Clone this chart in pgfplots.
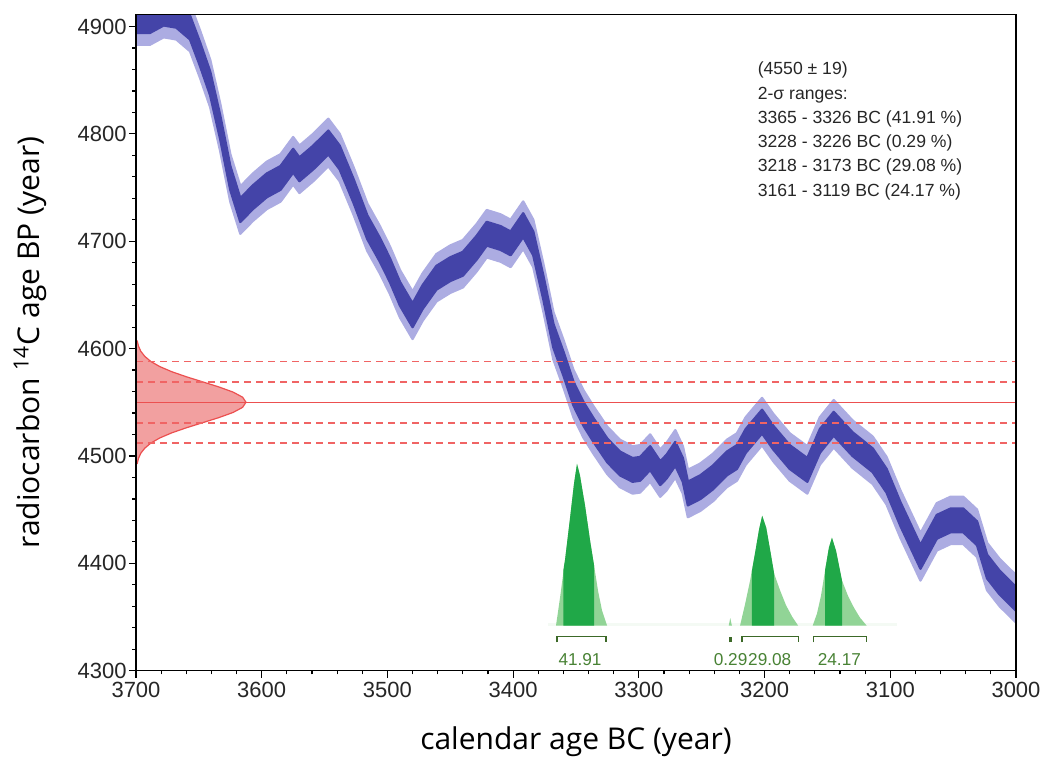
\documentclass[border=0pt]{standalone}
\usepackage{fontspec}
\setmainfont{Liberation Sans}
\newfontfamily\labelfont{Open Sans}
\usepackage{pgfplots}
\pgfplotsset{compat=1.18}
\usepackage{pgfplotstable}
\usepgfplotslibrary{fillbetween}

\definecolor{bandlight}{RGB}{172,172,226}
\definecolor{banddark}{RGB}{68,68,168}
\definecolor{redline}{RGB}{236,80,80}
\definecolor{reddash}{RGB}{240,100,100}
\definecolor{redfill}{RGB}{242,160,160}
\definecolor{gdark}{RGB}{32,168,72}
\definecolor{glight}{RGB}{145,212,150}
\definecolor{gfaint}{RGB}{244,250,244}
\definecolor{gbracket}{RGB}{60,105,40}
\definecolor{glabel}{RGB}{72,130,52}

% calibration curve: year, outer upper, inner upper, inner lower, outer lower
\pgfplotstableread{
yr   ohi  ihi  ilo  olo
3700 4927 4916 4894 4883
3689 4927 4916 4894 4883
3678 4934 4923 4901 4890
3668 4932 4921 4899 4888
3657 4921 4910 4888 4877
3649 4896 4885 4863 4852
3641 4869 4858 4836 4825
3633 4828 4817 4795 4784
3625 4781 4770 4748 4737
3617 4751 4740 4718 4707
3607 4763 4752 4730 4719
3596 4774 4763 4741 4730
3585 4781 4770 4748 4737
3575 4797 4786 4764 4753
3570 4789 4778 4756 4745
3559 4800 4789 4767 4756
3547 4814 4803 4781 4770
3538 4800 4789 4767 4756
3527 4769 4758 4736 4725
3516 4735 4724 4702 4691
3506 4714 4703 4681 4670
3498 4695 4684 4662 4651
3490 4673 4662 4640 4629
3480 4653 4642 4620 4609
3472 4670 4659 4637 4626
3461 4688 4677 4655 4644
3450 4696 4685 4663 4652
3440 4701 4690 4668 4657
3429 4716 4705 4683 4672
3421 4729 4718 4696 4685
3410 4725 4714 4692 4681
3402 4720 4709 4687 4676
3392 4737 4726 4704 4693
3384 4720 4709 4687 4676
3376 4679 4668 4646 4635
3368 4634 4623 4601 4590
3360 4608 4597 4575 4564
3352 4580 4569 4547 4536
3344 4561 4550 4528 4517
3336 4546 4535 4513 4502
3325 4527 4516 4494 4483
3315 4515 4504 4482 4471
3305 4509 4498 4476 4465
3299 4510 4499 4477 4466
3291 4520 4509 4487 4476
3283 4506 4495 4473 4462
3278 4512 4501 4479 4468
3271 4524 4513 4491 4480
3265 4509 4498 4476 4465
3261 4487 4476 4454 4443
3251 4493 4482 4460 4449
3241 4502 4491 4469 4458
3230 4515 4504 4482 4471
3222 4521 4510 4488 4477
3215 4536 4525 4503 4492
3202 4554 4543 4521 4510
3193 4539 4528 4506 4495
3180 4521 4510 4488 4477
3166 4509 4498 4476 4465
3156 4536 4525 4503 4492
3145 4552 4541 4519 4508
3130 4533 4522 4500 4489
3114 4518 4507 4485 4474
3103 4499 4488 4466 4455
3092 4468 4457 4435 4424
3076 4428 4417 4395 4384
3063 4456 4445 4423 4412
3052 4462 4451 4429 4418
3042 4462 4451 4429 4418
3031 4450 4439 4417 4406
3023 4419 4408 4386 4375
3013 4404 4393 4371 4360
3000 4389 4378 4356 4345
}\calcurve

\begin{document}
\begin{tikzpicture}
  \begin{axis}[
      width=440pt, height=328pt,
      scale only axis,
      x dir=reverse,
      xmin=3000, xmax=3700,
      ymin=4300, ymax=4911,
      xtick={3000,3100,...,3700},
      ytick={4300,4400,...,4900},
      minor x tick num=4,
      minor y tick num=4,
      xtick pos=left, ytick pos=left,
      tick align=outside,
      major tick length=3.5pt,
      minor tick length=1.8pt,
      axis on top,
      axis line style={line width=0.75pt},
      every tick/.style={black, line width=0.6pt},
      /pgf/number format/assume math mode=true,
      /pgf/number format/set thousands separator={},
      tick label style={font=\fontsize{11}{13}\selectfont, text=black!85},
      yticklabel style={inner sep=1pt},
      xticklabel style={inner sep=2pt},
      xlabel={calendar age BC (year)},
      ylabel={radiocarbon \textsuperscript{14}C age BP (year)},
      label style={font=\labelfont\fontsize{15}{18}\selectfont},
      xlabel style={at={(axis description cs:0.5,-0.108)}, anchor=center},
      ylabel style={at={(axis description cs:-0.1205,0.5)}, anchor=center},
      sigma/.style={reddash, line width=0.9pt, dash pattern=on 3.5pt off 2.5pt},
    ]

    % calibration band (2 sigma and 1 sigma)
    \addplot[name path=ohi, draw=none, forget plot] table[x=yr, y=ohi] {\calcurve};
    \addplot[name path=olo, draw=none, forget plot] table[x=yr, y=olo] {\calcurve};
    \addplot[name path=ihi, draw=none, forget plot] table[x=yr, y=ihi] {\calcurve};
    \addplot[name path=ilo, draw=none, forget plot] table[x=yr, y=ilo] {\calcurve};
    \addplot[fill=bandlight, draw=bandlight, line width=1.2pt, line join=round]
      fill between[of=ohi and olo];
    \addplot[fill=banddark, draw=banddark, line width=1.2pt, line join=round]
      fill between[of=ihi and ilo];

    % measured radiocarbon age, 4550 +- 19
    \addplot[fill=redfill, draw=redline, line width=0.6pt] coordinates {
      (3700,4493) (3699,4493) (3698,4497.75) (3696.2,4502.5) (3693,4507.25)
      (3688.2,4512) (3681.1,4516.75) (3671.6,4521.5) (3659.9,4526.25)
      (3646.9,4531) (3634,4535.75) (3622.8,4540.5) (3615.2,4545.25)
      (3612.5,4550)
      (3615.2,4554.75) (3622.8,4559.5) (3634,4564.25) (3646.9,4569)
      (3659.9,4573.75) (3671.6,4578.5) (3681.1,4583.25) (3688.2,4588)
      (3693,4592.75) (3696.2,4597.5) (3698,4602.25) (3699,4607) (3700,4607)
    } -- cycle;

    % calibrated distribution
    \addplot[fill=gfaint, draw=none] coordinates {
      (3372,4342) (3372,4344.5) (3095,4344.5) (3095,4342)} -- cycle;
    \addplot[fill=glight, draw=none] coordinates {
      (3365.9,4342) (3362.7,4368) (3358.7,4403.4) (3354.7,4442.5) (3351.6,4474)
      (3349.2,4492.7) (3346.8,4481.5) (3342.8,4453.6) (3338.8,4421.1)
      (3335.6,4397.8) (3332.5,4374.6) (3329.3,4356) (3325.3,4342)} -- cycle;
    \addplot[fill=gdark, draw=none] coordinates {
      (3360,4342) (3360,4394) (3358.7,4403.4) (3354.7,4442.5) (3351.6,4474)
      (3349.2,4492.7) (3346.8,4481.5) (3342.8,4453.6) (3338.8,4421.1)
      (3335.6,4397.8) (3335.6,4342)} -- cycle;
    \addplot[fill=glight, draw=none] coordinates {
      (3219.5,4342) (3215.5,4362) (3211.5,4384) (3207.5,4410) (3204.3,4432)
      (3201.9,4444.3) (3198.7,4433.2) (3195.5,4411.8) (3192.4,4390.4)
      (3187.6,4374.6) (3182.8,4360.6) (3178.1,4350.4) (3173.3,4342)} -- cycle;
    \addplot[fill=gdark, draw=none] coordinates {
      (3210.2,4342) (3210.2,4392) (3207.5,4410) (3204.3,4432) (3201.9,4444.3)
      (3198.7,4433.2) (3195.5,4411.8) (3192.4,4390.4) (3192.4,4342)} -- cycle;
    \addplot[fill=glight, draw=none] coordinates {
      (3161.7,4342) (3158.3,4353.2) (3155.1,4369.9) (3151.9,4393.2)
      (3148.8,4414.6) (3146.4,4423.9) (3143.2,4411.8) (3140,4393.2)
      (3138.4,4383.9) (3133.7,4369.9) (3128.9,4358.7) (3124.1,4349.4)
      (3118.8,4342)} -- cycle;
    \addplot[fill=gdark, draw=none] coordinates {
      (3151.9,4342) (3151.9,4393.2) (3148.8,4414.6) (3146.4,4423.9)
      (3143.2,4411.8) (3140,4393.2) (3138.4,4383.9) (3138.4,4342)} -- cycle;
    \addplot[fill=glight, draw=none] coordinates {
      (3228.5,4342) (3227.3,4349) (3226,4342)} -- cycle;

    % 2-sigma range brackets
    \addplot[gbracket, line width=0.7pt] coordinates {
      (3365,4326.4) (3365,4331.6) (3326,4331.6) (3326,4326.4)};
    \addplot[gbracket, line width=1.6pt] coordinates {
      (3227,4326.4) (3227,4331.6)};
    \addplot[gbracket, line width=0.7pt] coordinates {
      (3218,4326.4) (3218,4331.6) (3173,4331.6) (3173,4326.4)};
    \addplot[gbracket, line width=0.7pt] coordinates {
      (3161,4326.4) (3161,4331.6) (3119,4331.6) (3119,4326.4)};

    % mean and 1, 2 sigma lines
    \addplot[redline, line width=0.7pt] coordinates {(3700,4550) (3000,4550)};
    \addplot[sigma] coordinates {(3700,4569) (3000,4569)};
    \addplot[sigma] coordinates {(3700,4531) (3000,4531)};
    \addplot[sigma] coordinates {(3700,4588) (3000,4588)};
    \addplot[sigma] coordinates {(3700,4512) (3000,4512)};

    \begin{scope}[every node/.style={inner sep=0pt, text=glabel, font=\fontsize{8.6}{10}\selectfont}]
      \node at (axis cs:3346.8,4310.6) {41.91};
      \node at (axis cs:3227,4310.6) {0.29};
      \node at (axis cs:3195.9,4310.6) {29.08};
      \node at (axis cs:3140.5,4310.6) {24.17};
    \end{scope}

    \begin{scope}[every node/.style={anchor=base west, inner sep=0pt, text=black!85, font=\fontsize{8.8}{10}\selectfont}]
      \node at (axis cs:3205.7,4855.0) {(4550 ± 19)};
      \node at (axis cs:3205.7,4832.4) {2-σ ranges:};
      \node at (axis cs:3205.7,4809.8) {3365 - 3326 BC (41.91 \%)};
      \node at (axis cs:3205.7,4787.2) {3228 - 3226 BC (0.29 \%)};
      \node at (axis cs:3205.7,4764.6) {3218 - 3173 BC (29.08 \%)};
      \node at (axis cs:3205.7,4742.0) {3161 - 3119 BC (24.17 \%)};
    \end{scope}
  \end{axis}
  \pgfresetboundingbox
  \path (-68pt,-43.5pt) rectangle (460pt,335.35pt);
\end{tikzpicture}
\end{document}
